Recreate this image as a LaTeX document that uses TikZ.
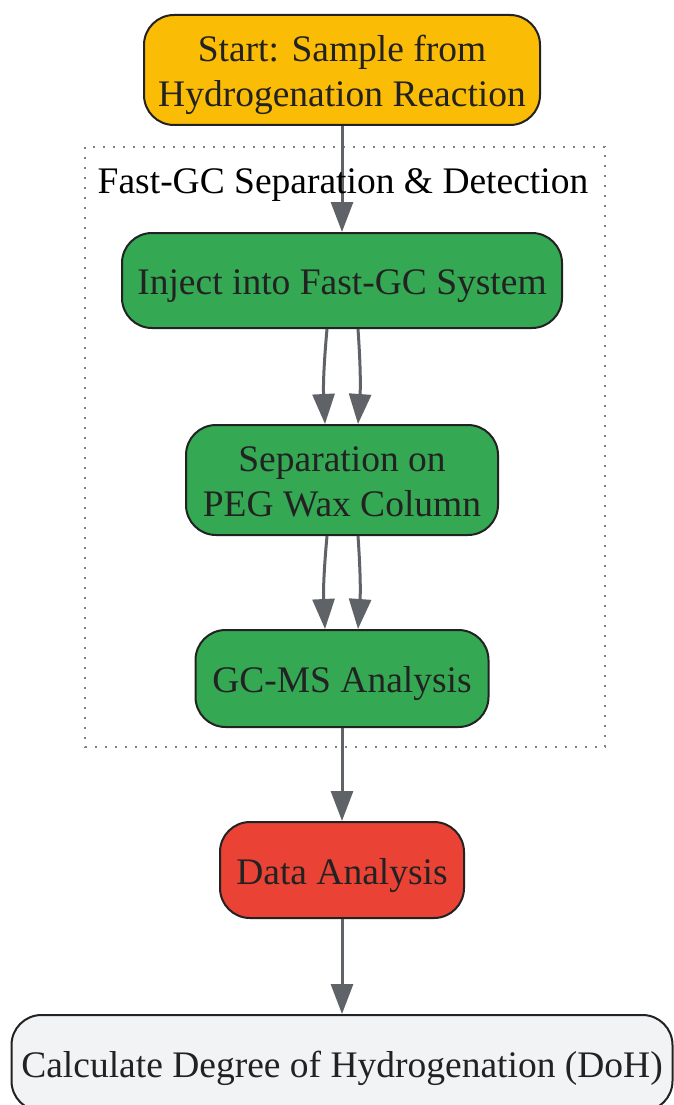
\documentclass[tikz,border=0pt]{standalone}
\usepackage{fontspec}
\setmainfont{Liberation Serif}
\usetikzlibrary{positioning,arrows.meta}
\definecolor{startyellow}{HTML}{FBBC05}
\definecolor{stepgreen}{HTML}{34A853}
\definecolor{datared}{HTML}{EA4335}
\definecolor{endgrey}{HTML}{F1F3F4}
\definecolor{linegrey}{HTML}{5F6368}
\definecolor{textdark}{HTML}{222222}
\tikzset{
  box/.style={draw=textdark, line width=2pt, rounded corners=30pt, align=center,
    text=textdark, font=\fontsize{37.5}{45}\selectfont, text height=37pt, text depth=9pt},
  twoline/.style={text height=82pt, text depth=9pt},
  flow/.style={-{Triangle[length=30pt,width=22pt]}, color=linegrey, line width=3pt},
  cluster/.style={draw=gray, line width=2pt, dash pattern=on 2pt off 8pt},
}
\begin{document}
\begin{tikzpicture}[x=1pt,y=1pt]
  \useasboundingbox (0,0) rectangle (674,-1105);
  \node[box, twoline, fill=startyellow, minimum width=396pt, minimum height=110pt] (start) at (342,-70)
    {Start: Sample from\\Hydrogenation Reaction};
  \node[box, fill=stepgreen, minimum width=440pt, minimum height=95pt, below=106pt of start] (inject)
    {Inject into Fast-GC System};
  \node[box, twoline, fill=stepgreen, minimum width=312pt, minimum height=110pt, below=95pt of inject] (sep)
    {Separation on\\PEG Wax Column};
  \node[box, fill=stepgreen, minimum width=293pt, minimum height=97pt, below=93pt of sep] (gcms)
    {GC-MS Analysis};
  \node[box, fill=datared, minimum width=244pt, minimum height=96pt, below=93pt of gcms] (data)
    {Data Analysis};
  \node[box, fill=endgrey, minimum width=661pt, minimum height=96pt, below=95pt of data] (doh)
    {Calculate Degree of Hydrogenation (DoH)};
  % cluster frame
  \draw[cluster] (85,-147) rectangle (605,-747);
  \draw[flow] (start) -- (inject);
  \draw[flow] ([xshift=-15pt]inject.south) to[bend right=4] ([xshift=-17pt]sep.north);
  \draw[flow] ([xshift=16pt]inject.south) to[bend left=4] ([xshift=16pt]sep.north);
  \draw[flow] ([xshift=-15pt]sep.south) to[bend right=4] ([xshift=-17pt]gcms.north);
  \draw[flow] ([xshift=16pt]sep.south) to[bend left=4] ([xshift=16pt]gcms.north);
  \draw[flow] (gcms) -- (data);
  \draw[flow] (data) -- (doh);
  \node[font=\fontsize{37.5}{45}\selectfont] (clusterlabel) at (343,-185) {Fast-GC Separation \& Detection};
\end{tikzpicture}
\end{document}
